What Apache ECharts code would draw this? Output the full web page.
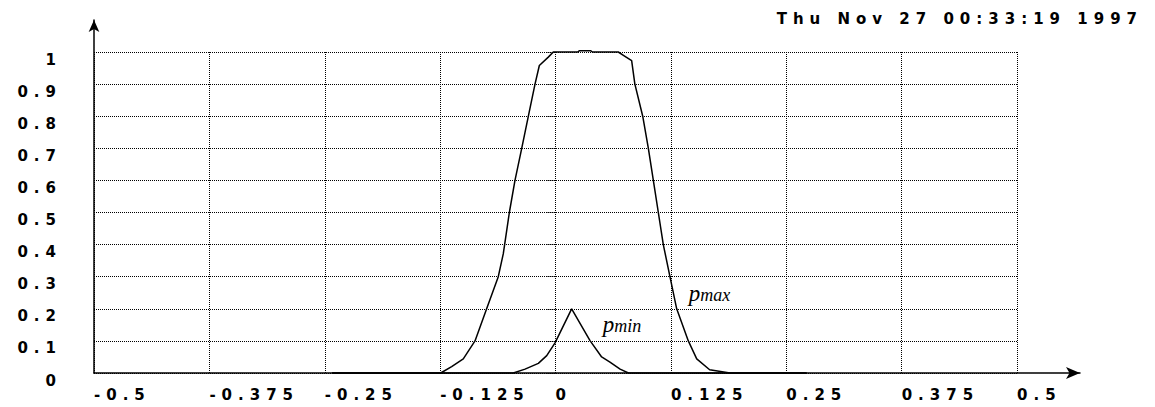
<!DOCTYPE html>
<html>
<head>
<meta charset="utf-8">
<script src="https://cdn.jsdelivr.net/npm/echarts@6/dist/echarts.min.js"></script>
<style>
    html, body { margin: 0; padding: 0; background: #fff; }
    #main { width: 1155px; height: 407px; }
    /* wide, spaced-out plotter lettering */
    #main text[style*="DejaVu Sans"] { letter-spacing: 6px; }
</style>
</head>
<body>
<div id="main"></div>
<script>
// 图表数据
var stampText = 'Thu Nov 27 00:33:19 1997';
var xTicks = [-0.5, -0.375, -0.25, -0.125, 0, 0.125, 0.25, 0.375, 0.5];
var yTicks = [0, 0.1, 0.2, 0.3, 0.4, 0.5, 0.6, 0.7, 0.8, 0.9, 1];

// p_max 曲线 [x, y]
var pmax = [
    [-0.242, 0], [-0.1244, 0], [-0.1125, 0.02], [-0.0999, 0.044], [-0.0872, 0.1],
    [-0.0746, 0.2], [-0.062, 0.3], [-0.0566, 0.371], [-0.05, 0.5], [-0.0439, 0.6],
    [-0.0366, 0.7], [-0.0294, 0.8], [-0.0222, 0.9], [-0.0175, 0.958], [-0.0078, 0.984],
    [-0.0024, 1.0], [0.024, 1.0], [0.026, 1.004], [0.038, 1.004], [0.04, 1.0],
    [0.068, 1.0], [0.074, 0.989], [0.0825, 0.973], [0.086, 0.9], [0.0945, 0.8],
    [0.1006, 0.7], [0.106, 0.6], [0.1114, 0.5], [0.1168, 0.4], [0.124, 0.3],
    [0.1313, 0.2], [0.1439, 0.1], [0.153, 0.044], [0.167, 0.01], [0.189, 0], [0.272, 0]
];
// p_min 曲线 [x, y]
var pmin = [
    [-0.242, 0], [-0.0457, 0], [-0.033, 0.012], [-0.0186, 0.03], [-0.0095, 0.054],
    [-0.0005, 0.094], [0.0175, 0.2], [0.0374, 0.101], [0.05, 0.05], [0.059, 0.034],
    [0.07, 0.012], [0.079, 0], [0.272, 0]
];
var pmaxLabelAt = 30;   // 标注所在点
var pminLabelAt = 6;

var monoFont = 'DejaVu Sans';

function withLabel(points, idx, sub, offset) {
    return points.map(function (p, i) {
        if (i !== idx) return p;
        return {
            value: p,
            label: {
                show: true,
                position: 'right',
                offset: offset,
                formatter: '{a|p}{b|' + sub + '}',
                rich: {
                    a: { fontFamily: 'Liberation Serif', fontStyle: 'italic', fontSize: 23, lineHeight: 22, verticalAlign: 'top', color: '#000' },
                    b: { fontFamily: 'Liberation Serif', fontStyle: 'italic', fontSize: 18, lineHeight: 18, verticalAlign: 'bottom', padding: [8, 0, 0, 0], color: '#000' }
                }
            }
        };
    });
}

var myChart = echarts.init(document.getElementById('main'), null, { renderer: 'svg' });

var gridLine = { color: '#000', width: 1, type: [1, 1] };
var axisText = { color: '#000', fontFamily: monoFont, fontWeight: 'bold', fontSize: 15 };

var option = {
    animation: false,
    backgroundColor: '#fff',
    title: {
        text: stampText,
        right: 151,
        top: 6,
        textStyle: { color: '#000', fontFamily: monoFont, fontWeight: 'bold', fontSize: 15 }
    },
    grid: [
        { left: 94, right: 138, top: 52, bottom: 34 },   // 网格与刻度
        { left: 94, right: 75, top: 20, bottom: 34 }     // 带箭头的坐标轴
    ],
    xAxis: [{
        type: 'value',
        gridIndex: 0,
        min: xTicks[0],
        max: xTicks[xTicks.length - 1],
        interval: 0.125,
        axisLine: { show: false },
        axisTick: { show: false },
        splitLine: { show: true, lineStyle: gridLine },
        axisLabel: Object.assign({
            margin: 14,
            align: 'left',
            showMinLabel: true,
            showMaxLabel: true,
            formatter: function (v) { return String(v); }
        }, axisText)
    }, {
        type: 'value',
        gridIndex: 1,
        min: xTicks[0],
        max: 0.5683,
        axisLine: { show: true, onZero: false, symbol: ['none', 'arrow'], symbolSize: [9, 14], lineStyle: { color: '#000', width: 1.5 } },
        axisTick: { show: false },
        axisLabel: { show: false },
        splitLine: { show: false }
    }],
    yAxis: [{
        type: 'value',
        gridIndex: 0,
        min: yTicks[0],
        max: yTicks[yTicks.length - 1],
        interval: 0.1,
        axisLine: { show: false },
        axisTick: { show: true, length: 9, lineStyle: gridLine },
        splitLine: { show: true, lineStyle: gridLine },
        axisLabel: Object.assign({
            margin: 32,
            verticalAlign: 'top',
            formatter: function (v) { return String(Math.round(v * 10) / 10); }
        }, axisText)
    }, {
        type: 'value',
        gridIndex: 1,
        min: 0,
        max: 1.0997,
        axisLine: { show: true, onZero: false, symbol: ['none', 'arrow'], symbolSize: [8, 12], lineStyle: { color: '#000', width: 1.5 } },
        axisTick: { show: false },
        axisLabel: { show: false },
        splitLine: { show: false }
    }],
    series: [{
        name: 'pmax',
        type: 'line',
        xAxisIndex: 0,
        yAxisIndex: 0,
        showSymbol: true,
        symbol: 'circle',
        symbolSize: 0,
        clip: false,
        lineStyle: { color: '#000', width: 1.5 },
        data: withLabel(pmax, pmaxLabelAt, 'max', [7, -16])
    }, {
        name: 'pmin',
        type: 'line',
        xAxisIndex: 0,
        yAxisIndex: 0,
        showSymbol: true,
        symbol: 'circle',
        symbolSize: 0,
        clip: false,
        lineStyle: { color: '#000', width: 1.5 },
        data: withLabel(pmin, pminLabelAt, 'min', [26, 15])
    }]
};

myChart.setOption(option);
</script>
</body>
</html>
